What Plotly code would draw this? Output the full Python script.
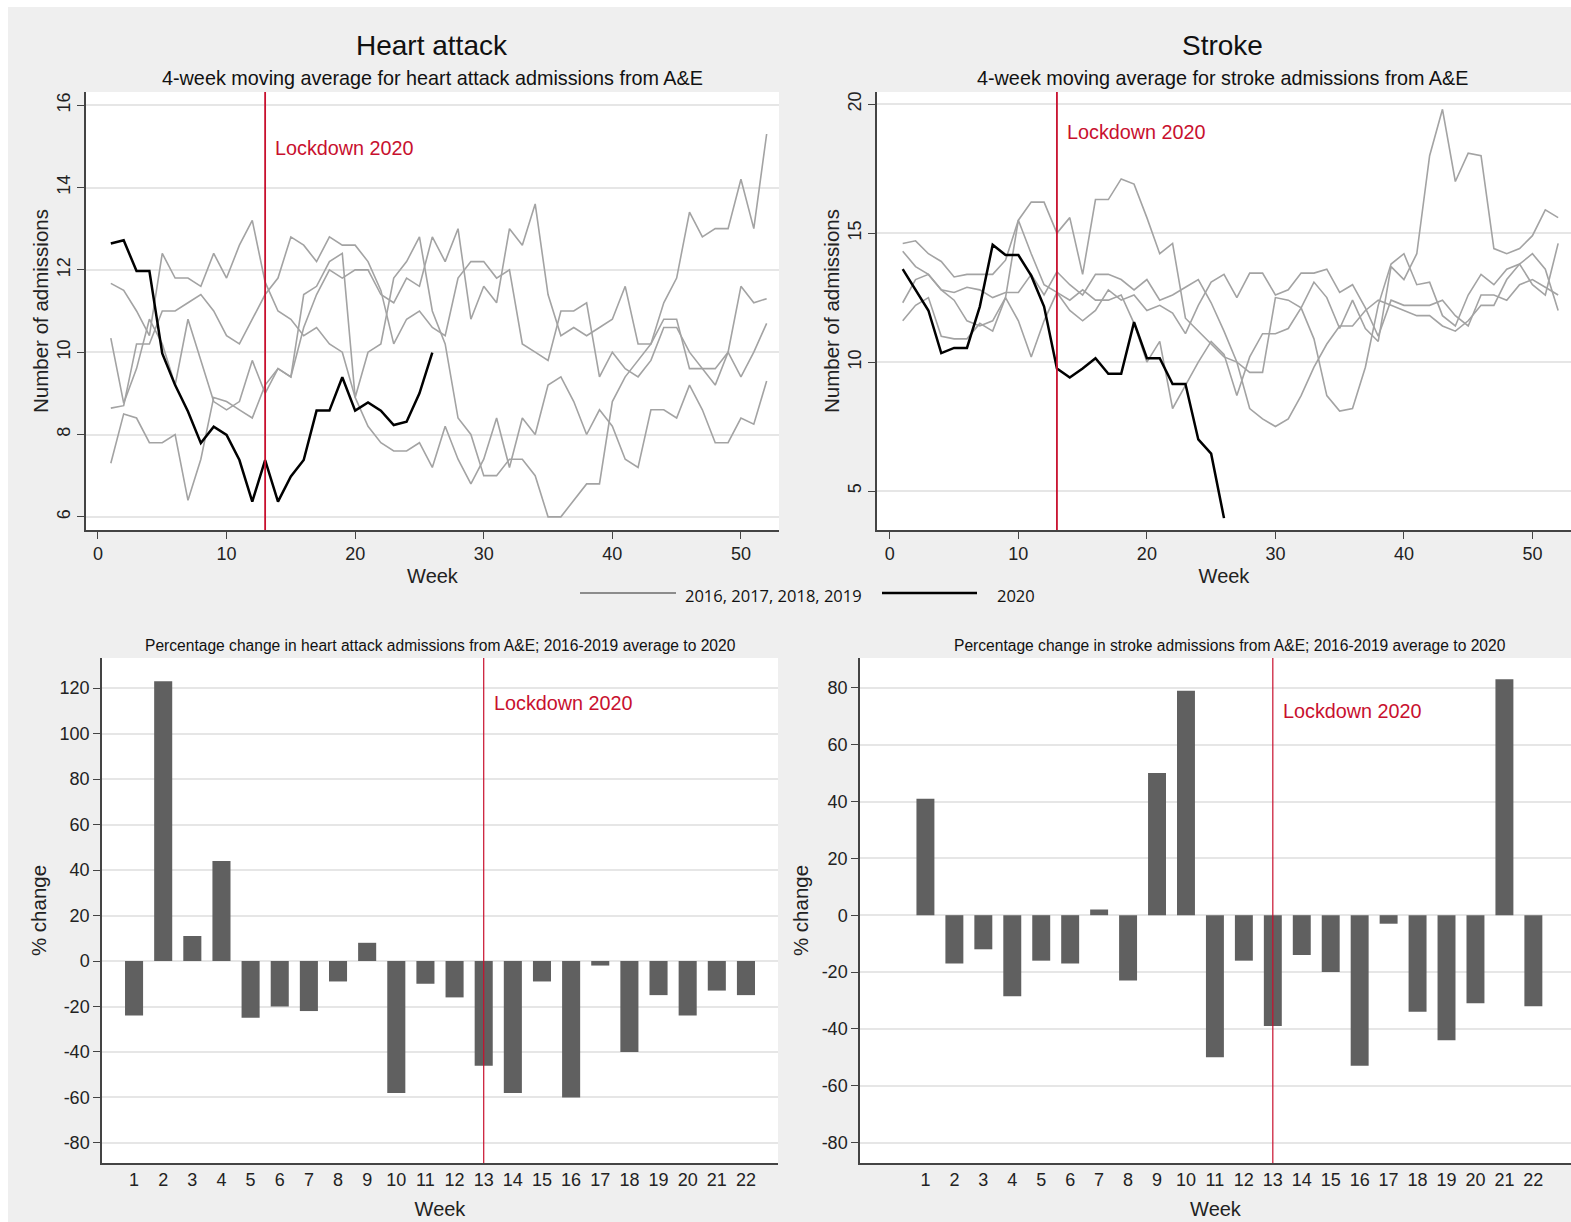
import plotly.graph_objects as go

W, H = 1571, 1222
weeks = list(range(1, 53))

# ---------------- Heart attack: 4-week moving averages ----------------
ha_2020 = [12.64, 12.72, 11.97, 11.97, 9.97, 9.2, 8.56, 7.79, 8.19, 7.99, 7.38, 6.37, 7.38,
           6.37, 6.98, 7.38, 8.58, 8.58, 9.39, 8.58, 8.78, 8.58, 8.23, 8.31, 9.0, 9.99]
ha_2016 = [11.67, 11.5, 11.0, 10.4, 12.4, 11.8, 11.8, 11.6, 12.4, 11.8, 12.6, 13.2, 11.7,
           11.0, 10.8, 10.4, 10.6, 10.2, 10.0, 8.9, 8.2, 7.8, 7.6, 7.6, 7.8, 7.2, 8.2,
           7.4, 6.8, 7.4, 8.4, 7.2, 8.4, 8.0, 9.2, 9.4, 8.8, 8.0, 8.6, 8.2, 7.4, 7.2,
           8.6, 8.6, 8.4, 9.2, 8.6, 7.8, 7.8, 8.4, 8.25, 9.3]
ha_2017 = [10.34, 8.76, 9.6, 10.8, 10.2, 9.2, 10.8, 9.8, 8.8, 8.6, 8.8, 9.8, 9.0,
           9.6, 9.4, 11.4, 11.6, 12.2, 12.4, 8.9, 10.0, 10.2, 11.8, 12.2, 12.8, 11.0, 10.2,
           8.4, 8.0, 7.0, 7.0, 7.4, 7.4, 7.0, 6.0, 6.0, 6.4, 6.8, 6.8, 8.8, 9.4, 9.8,
           10.2, 11.2, 11.8, 13.4, 12.8, 13.0, 13.0, 14.2, 13.0, 15.3]
ha_2018 = [8.64, 8.7, 10.2, 10.2, 11.0, 11.0, 11.2, 11.4, 11.0, 10.4, 10.2, 10.8, 11.4,
           11.8, 12.8, 12.6, 12.2, 12.8, 12.6, 12.6, 12.2, 11.5, 10.2, 10.8, 11.0, 10.6, 10.4,
           11.8, 12.2, 12.2, 11.8, 12.0, 10.2, 10.0, 9.8, 11.0, 11.0, 11.2, 9.4, 10.0, 9.6,
           9.4, 9.8, 10.6, 10.6, 10.0, 9.6, 9.2, 10.0, 11.6, 11.2, 11.3]
ha_2019 = [7.3, 8.5, 8.4, 7.8, 7.8, 8.0, 6.4, 7.4, 8.9, 8.8, 8.6, 8.4, 9.2,
           9.6, 9.4, 10.6, 11.4, 12.0, 11.8, 12.0, 12.0, 11.4, 11.2, 11.8, 11.6, 12.8, 12.2,
           13.0, 10.8, 11.6, 11.2, 13.0, 12.6, 13.6, 11.4, 10.4, 10.6, 10.4, 10.6, 10.8, 11.6,
           10.2, 10.2, 10.8, 10.8, 9.6, 9.6, 9.6, 10.0, 9.4, 10.0, 10.7]

# ---------------- Stroke: 4-week moving averages ----------------
st_2020 = [13.6, 12.8, 12.0, 10.35, 10.55, 10.55, 12.15, 14.55, 14.15, 14.15, 13.35, 12.15,
           9.75, 9.4, 9.75, 10.15, 9.55, 9.55, 11.55, 10.15, 10.15, 9.15, 9.15, 7.0, 6.45, 3.95]
st_2016 = [14.6, 14.7, 14.2, 13.9, 13.3, 13.4, 13.4, 13.4, 13.95, 15.5, 16.2, 16.2, 15.0,
           15.6, 13.4, 16.3, 16.3, 17.1, 16.9, 15.6, 14.2, 14.6, 11.7, 11.2, 10.7, 10.2, 10.0,
           8.2, 7.8, 7.5, 7.8, 8.7, 9.8, 10.7, 11.4, 11.4, 12.0, 12.4, 12.2, 12.0, 11.8,
           11.8, 11.4, 11.2, 11.6, 12.2, 12.2, 13.2, 13.8, 13.0, 12.6, 14.6]
st_2017 = [12.3, 13.2, 13.4, 12.8, 12.4, 11.6, 11.4, 11.6, 12.5, 15.5, 14.2, 13.0, 12.7,
           12.4, 12.8, 12.4, 12.4, 12.6, 11.5, 10.0, 10.8, 8.2, 9.1, 10.0, 10.8, 10.3, 8.7,
           10.2, 11.1, 11.1, 11.3, 12.1, 13.1, 12.5, 11.3, 12.4, 11.3, 10.8, 13.7, 13.2, 14.2,
           18.0, 19.8, 17.0, 18.1, 18.0, 14.4, 14.2, 14.4, 14.9, 15.9, 15.6]
st_2018 = [14.3, 13.7, 13.4, 12.8, 12.7, 12.9, 12.8, 12.5, 12.7, 12.7, 13.4, 12.6, 13.5,
           13.0, 12.6, 13.4, 13.4, 13.2, 12.8, 13.2, 12.4, 12.6, 12.9, 13.2, 12.3, 11.2, 10.0,
           9.6, 9.6, 12.5, 12.4, 12.1, 10.9, 8.7, 8.1, 8.2, 9.8, 12.2, 13.8, 14.2, 13.0,
           13.1, 11.8, 11.4, 12.6, 13.4, 13.0, 13.6, 13.8, 14.2, 13.6, 12.0]
st_2019 = [11.6, 12.2, 12.5, 11.0, 10.9, 10.9, 11.5, 11.2, 12.5, 11.6, 10.2, 11.6, 12.7,
           12.0, 11.6, 12.0, 12.8, 12.4, 12.6, 12.0, 12.2, 11.9, 11.1, 12.2, 13.1, 13.4, 12.5,
           13.45, 13.45, 12.6, 12.8, 13.45, 13.45, 13.6, 12.7, 13.0, 12.1, 11.0, 12.4, 12.2, 12.2,
           12.2, 12.4, 11.8, 11.4, 12.6, 12.6, 12.4, 13.0, 13.2, 12.9, 12.6]

# ---------------- Percentage change bars ----------------
bar_weeks = list(range(1, 23))
ha_pct = [-24, 123, 11, 44, -25, -20, -22, -9, 8, -58, -10, -16, -46, -58, -9, -60, -2,
          -40, -15, -24, -13, -15]
st_pct = [41, -17, -12, -28.5, -16, -17, 2, -23, 50, 79, -50, -16, -39, -14, -20, -53, -3,
          -34, -44, -31, 83, -32]
ha_pct_ticks = list(range(-80, 121, 20))
st_pct_ticks = list(range(-80, 81, 20))

lockdown_week = 13
years_label = "2016, 2017, 2018, 2019"

GREY = "#a3a3a3"
RED = "#c8102e"
AXC = "#444444"
GRID = "#e6e6e6"
BG = "#efefef"
FONT = "Liberation Sans, Arial, sans-serif"


def px_x(p):
    return p / W


def px_y(p):
    return 1 - p / H


fig = go.Figure()

for s in [ha_2016, ha_2017, ha_2018, ha_2019]:
    fig.add_trace(go.Scatter(x=weeks, y=s, mode="lines", line=dict(color=GREY, width=1.6),
                             xaxis="x", yaxis="y", showlegend=False, hoverinfo="skip"))
fig.add_trace(go.Scatter(x=weeks[:len(ha_2020)], y=ha_2020, mode="lines",
                         line=dict(color="black", width=2.5), xaxis="x", yaxis="y",
                         showlegend=False))
for s in [st_2016, st_2017, st_2018, st_2019]:
    fig.add_trace(go.Scatter(x=weeks, y=s, mode="lines", line=dict(color=GREY, width=1.6),
                             xaxis="x2", yaxis="y2", showlegend=False, hoverinfo="skip"))
fig.add_trace(go.Scatter(x=weeks[:len(st_2020)], y=st_2020, mode="lines",
                         line=dict(color="black", width=2.5), xaxis="x2", yaxis="y2",
                         showlegend=False))
fig.add_trace(go.Bar(x=bar_weeks, y=ha_pct, marker=dict(color="#606060", line=dict(width=0)),
                     width=0.62, xaxis="x3", yaxis="y3", showlegend=False))
fig.add_trace(go.Bar(x=bar_weeks, y=st_pct, marker=dict(color="#606060", line=dict(width=0)),
                     width=0.62, xaxis="x4", yaxis="y4", showlegend=False))

tick_font = dict(family=FONT, size=18, color="#222")
title_font = dict(family=FONT, size=20, color="#222")
ytitle_font = dict(family=FONT, size=20.5, color="#222")

common_x = dict(showline=True, linecolor=AXC, linewidth=1.5, ticks="outside", ticklen=7,
                tickcolor=AXC, showgrid=False, zeroline=False, tickfont=tick_font)
common_y = dict(showline=True, linecolor=AXC, linewidth=1.5, ticks="outside", ticklen=7,
                tickcolor=AXC, showgrid=True, gridcolor=GRID, gridwidth=2, zeroline=False,
                tickfont=tick_font)

layout = dict(
    width=W, height=H,
    margin=dict(l=0, r=0, t=0, b=0),
    paper_bgcolor=BG, plot_bgcolor="white",
    font=dict(family=FONT),
    xaxis=dict(common_x, domain=[px_x(86), px_x(779)], range=[-0.93, 52.96],
               tickvals=[0, 10, 20, 30, 40, 50], anchor="y",
               title=dict(text="Week", font=title_font, standoff=6)),
    yaxis=dict(common_y, domain=[px_y(530), px_y(92)], range=[5.68, 16.32],
               tickvals=[6, 8, 10, 12, 14, 16], tickangle=-90, anchor="x",
               title=dict(text="Number of admissions", font=ytitle_font, standoff=0)),
    xaxis2=dict(common_x, domain=[px_x(877), 1.0], range=[-1.0, 53.0],
                tickvals=[0, 10, 20, 30, 40, 50], anchor="y2",
                title=dict(text="Week", font=title_font, standoff=6)),
    yaxis2=dict(common_y, domain=[px_y(530), px_y(92)], range=[3.49, 20.47],
                tickvals=[5, 10, 15, 20], tickangle=-90, anchor="x2",
                title=dict(text="Number of admissions", font=ytitle_font, standoff=0)),
    xaxis3=dict(common_x, domain=[px_x(102), px_x(778)], range=[-0.1, 23.1],
                tickvals=bar_weeks, ticks="", anchor="y3",
                title=dict(text="Week", font=title_font, standoff=13)),
    yaxis3=dict(common_y, domain=[px_y(1163), px_y(658)], range=[-88.8, 133.2],
                tickvals=ha_pct_ticks, ticktext=[str(v) for v in ha_pct_ticks], anchor="x3",
                title=dict(text="% change", font=ytitle_font, standoff=7)),
    xaxis4=dict(common_x, domain=[px_x(860), 1.0], range=[-1.26, 23.3],
                tickvals=bar_weeks, ticks="", anchor="y4",
                title=dict(text="Week", font=title_font, standoff=13)),
    yaxis4=dict(common_y, domain=[px_y(1163), px_y(658)], range=[-87.2, 90.5],
                tickvals=st_pct_ticks, ticktext=[str(v) for v in st_pct_ticks], anchor="x4",
                title=dict(text="% change", font=ytitle_font, standoff=7)),
)
fig.update_layout(**layout)

shapes = []
# white page border along top and left edges
shapes.append(dict(type="rect", xref="paper", yref="paper", x0=0, x1=1, y0=px_y(7), y1=1,
                   fillcolor="white", line=dict(width=0), layer="below"))
shapes.append(dict(type="rect", xref="paper", yref="paper", x0=0, x1=px_x(8), y0=0, y1=1,
                   fillcolor="white", line=dict(width=0), layer="below"))
for xr, yr, w in [("x", "y", 1.8), ("x2", "y2", 1.8), ("x3", "y3", 1.2), ("x4", "y4", 1.2)]:
    shapes.append(dict(type="line", xref=xr, yref=yr + " domain", x0=lockdown_week,
                       x1=lockdown_week, y0=0, y1=1, line=dict(color=RED, width=w)))
shapes.append(dict(type="line", xref="paper", yref="paper", x0=px_x(580), x1=px_x(676),
                   y0=px_y(593), y1=px_y(593), line=dict(color="#8c8c8c", width=2)))
shapes.append(dict(type="line", xref="paper", yref="paper", x0=px_x(882), x1=px_x(977),
                   y0=px_y(593), y1=px_y(593), line=dict(color="black", width=2.5)))
fig.update_layout(shapes=shapes)

ann = []


def ptext(text, x, y, size, color="#111", anchor="center", family=FONT):
    ann.append(dict(text=text, xref="paper", yref="paper", x=px_x(x), y=px_y(y),
                    xanchor=anchor, yanchor="middle", showarrow=False,
                    font=dict(family=family, size=size, color=color)))


ptext("Heart attack", 432, 45, 28)
ptext("Stroke", 1222, 45, 28)
ptext("4-week moving average for heart attack admissions from A&E", 432, 78, 19.8)
ptext("4-week moving average for stroke admissions from A&E", 1222, 78, 19.8)
ptext("Percentage change in heart attack admissions from A&E; 2016-2019 average to 2020",
      440, 645, 15.6)
ptext("Percentage change in stroke admissions from A&E; 2016-2019 average to 2020",
      1230, 645, 15.6)
ptext(years_label, 683, 595, 16.5, anchor="left", family="Open Sans, sans-serif")
ptext("2020", 995, 595, 16.5, anchor="left", family="Open Sans, sans-serif")

for xr, yr, yv in [("x", "y", 14.96), ("x2", "y2", 18.9), ("x3", "y3", 113.4), ("x4", "y4", 71.9)]:
    ann.append(dict(text="Lockdown 2020", xref=xr, yref=yr, x=lockdown_week, y=yv,
                    xanchor="left", xshift=8, showarrow=False,
                    font=dict(family=FONT, size=19.8, color=RED)))
fig.update_layout(annotations=ann)

fig.write_html("out.html",
               config={"displayModeBar": False},
               post_script="document.body.style.margin='0';"
                           "document.body.style.background='" + BG + "';"
                           "document.documentElement.style.background='" + BG + "';"
                           "document.documentElement.style.overflow='hidden';"
                           "document.body.style.overflow='hidden';")
